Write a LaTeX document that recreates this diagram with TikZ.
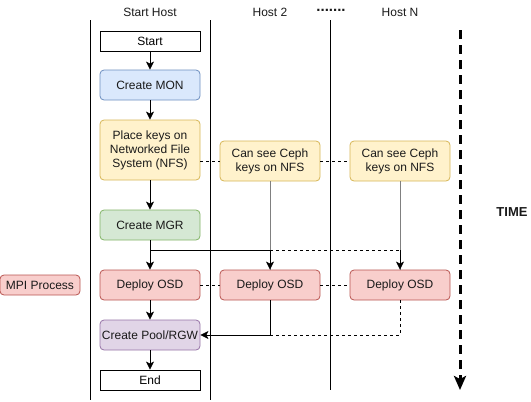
\documentclass[tikz,border=0pt]{standalone}
\usepackage{fontspec}
\setmainfont{Liberation Sans}
\usetikzlibrary{arrows.meta}
\definecolor{bluef}{HTML}{DAE8FC}\definecolor{blued}{HTML}{6C8EBF}
\definecolor{yelf}{HTML}{FFF2CC}\definecolor{yeld}{HTML}{D6B656}
\definecolor{grnf}{HTML}{D5E8D4}\definecolor{grnd}{HTML}{82B366}
\definecolor{redf}{HTML}{F8CECC}\definecolor{redd}{HTML}{B85450}
\definecolor{purf}{HTML}{E1D5E7}\definecolor{purd}{HTML}{9673A6}
\definecolor{txt}{HTML}{1A1A1A}
\begin{document}
\begin{tikzpicture}[x=1pt,y=-1pt,
  font=\fontsize{12}{14}\selectfont,
  box/.style={draw, minimum width=100pt, minimum height=30pt, rounded corners=4pt,
    align=center, inner sep=0pt, text=txt, line width=0.8pt},
  plain/.style={draw, minimum width=100pt, minimum height=20pt, inner sep=0pt, fill=white, line width=0.8pt},
  bluebox/.style={box, fill=bluef, draw=blued},
  yelbox/.style={box, fill=yelf, draw=yeld},
  grnbox/.style={box, fill=grnf, draw=grnd},
  redbox/.style={box, fill=redf, draw=redd},
  purbox/.style={box, fill=purf, draw=purd},
  arr/.style={-{Stealth[length=8pt,width=8pt,inset=2pt]}, line width=0.8pt},
  conn/.style={line width=0.8pt},
  dconn/.style={line width=0.8pt, dash pattern=on 3pt off 3pt},
  lane/.style={line width=0.8pt},
  head/.style={text=txt, inner sep=0pt}
]
\useasboundingbox (0,0) rectangle (531,402);

% lanes
\draw[lane] (90,20) -- (90,400);
\draw[lane] (210,20) -- (210,400);
\draw[lane] (330,20) -- (330,390);

% headers
\node[head] (hs) at (150,12) {Start Host};
\node[head] (h2) at (270,12) {Host 2};
\node[head, font=\bfseries\fontsize{15}{16}\selectfont] (hd) at (331,10) {.......};
\node[head] (hn) at (400,12) {Host N};

% nodes
\node[plain] (start) at (150,41) {Start};
\node[bluebox] (mon) at (150,85) {Create MON};
\node[yelbox, minimum height=60pt] (keys) at (150,150) {Place keys on\\Networked File\\System (NFS)};
\node[yelbox, minimum height=40pt] (ceph2) at (270,161) {Can see Ceph\\keys on NFS};
\node[yelbox, minimum height=40pt] (cephN) at (400,161) {Can see Ceph\\keys on NFS};
\node[grnbox] (mgr) at (150,225) {Create MGR};
\node[redbox] (osd1) at (150,285) {Deploy OSD};
\node[redbox] (osd2) at (270,285) {Deploy OSD};
\node[redbox] (osdN) at (400,285) {Deploy OSD};
\node[redbox, minimum width=80pt, minimum height=20pt] (mpi) at (40,285) {MPI Process};
\node[purbox] (pool) at (150,335) {Create Pool/RGW};
\node[plain] (end) at (150,380) {End};

% time
\coordinate (t1) at (460,30);
\coordinate (t2) at (460,390);
\draw[line width=3pt, dash pattern=on 9pt off 6pt, -{Stealth[length=14pt,width=12pt,inset=3pt]}] (t1) -- (t2);
\node[font=\bfseries\fontsize{13}{15}\selectfont, text=txt] (time) at (512,212) {TIME};

% gray connectors
\draw[conn, draw=gray] (ceph2.south) -- (osd2.north);
\draw[conn, draw=gray] (cephN.south) -- (osdN.north);

% dashed horizontal links
\draw[dconn] (ceph2.west -| keys.east) -- (ceph2.west);
\draw[dconn] (ceph2.east) -- (cephN.west);
\draw[dconn] (osd1.east) -- (osd2.west);
\draw[dconn] (osd2.east) -- (osdN.west);

% main flow
\draw[arr] (start) -- (mon);
\draw[arr] (mon) -- (keys);
\draw[arr] (keys) -- (mgr);
\draw[arr] (mgr) -- (osd1);
\coordinate (j1) at (150,250);
\draw[arr] (mgr.south) -- (j1) -| (osd2.north);
\draw[dconn] (osd2.north |- j1) -- (osdN.north |- j1);
\draw[arr] (osdN.north |- j1) -- (osdN.north);
\draw[arr] (osd1) -- (pool);
\draw[arr] (osd2.south) |- (pool.east);
\draw[dconn] (osdN.south) |- (osd2.south |- pool.east);
\draw[arr] (pool) -- (end);
\end{tikzpicture}
\end{document}
